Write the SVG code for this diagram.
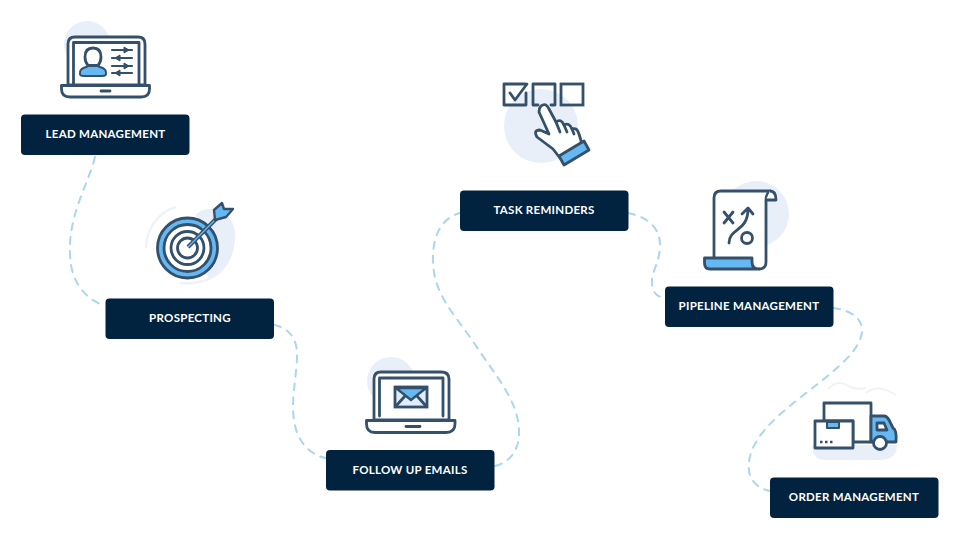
<svg xmlns="http://www.w3.org/2000/svg" width="960" height="539" viewBox="0 0 960 539">
<style>
.box{fill:#02233f}
.lbl{font-family:"Lato","Liberation Sans",sans-serif;font-weight:700;font-size:11.5px;fill:#fff;text-anchor:middle;letter-spacing:.28px}
.ln{fill:none;stroke:#34506a;stroke-width:2.8;stroke-linecap:round;stroke-linejoin:round}
.w{fill:#fff;stroke:#34506a;stroke-width:2.8;stroke-linejoin:round}
.bl{fill:#66b8f2;stroke:#34506a;stroke-width:2.8;stroke-linejoin:round}
.bg{fill:#e9eff8}
.dash{fill:none;stroke:#abd7ea;stroke-width:2;stroke-dasharray:7 7;stroke-linecap:round}
</style>
<rect width="960" height="539" fill="#fff"/>
<g id="connectors">
<path class="dash" d="M95 157C88 185 68 215 70 255C71 285 88 300 105 306"/>
<path class="dash" d="M274 325C290 328 298 340 297 358C296 380 291 400 294 420C297 442 310 455 326 458"/>
<path class="dash" d="M495 466C510 462 520 450 519 430C518 400 495 375 472 340C455 315 434 295 433 262C432 235 442 218 460 213"/>
<path class="dash" d="M628 213C648 217 660 228 660 245C660 262 651 272 652 284C653 294 658 297 665 298"/>
<path class="dash" d="M833 308C850 310 863 318 862 332C860 350 838 368 815 386C790 406 752 432 749 462C747 480 757 488 770 491"/>
</g>
<g id="lead-management">
<circle class="bg" cx="87" cy="44" r="23"/>
<path class="w" d="M68 85V44Q68 37 75 37H138Q145 37 145 44V85Z"/>
<path class="ln" d="M73.500 85V42.500H139V85"/>
<path class="w" d="M61.500 85.500H149.500V89Q149.500 97 141 97H70Q61.500 97 61.500 89Z"/>
<path class="ln" d="M101 91H110"/>
<path class="bl" d="M80 74Q79 69 86 67L90 65H96L100 67Q107 69 106 74Q106 76 102 76H84Q80 76 80 74Z" style="stroke-width:2"/>
<path class="w" d="M93 48Q85 48 85 57Q85 62 88 65.500H98Q101 62 101 57Q101 48 93 48Z"/>
<path class="ln" d="M112 50H132M112 58H132M112 66H132M112 73H132" style="stroke-width:2.200"/>
<path d="M124 47l5 3-5 3zM120 55l-5 3 5 3zM124 63l5 3-5 3zM120 70l-5 3 5 3z" fill="#34506a" stroke="#34506a"/>
<rect class="box" x="21" y="114.500" width="168.500" height="40.500" rx="4"/>
<text class="lbl" x="105.500" y="138">LEAD MANAGEMENT</text>
</g>
<g id="prospecting">
<path class="bg" d="M196 214C215 200 238 215 235 240C233 262 222 275 208 280Z"/>
<path d="M146 248C146 230 158 212 176 207M222 270C210 282 195 284 180 283" fill="none" stroke="#f0f3f6" stroke-width="2.500"/>
<circle class="bl" cx="187.500" cy="248" r="30"/>
<circle class="w" cx="187.500" cy="248" r="23.500"/>
<circle cx="187.500" cy="248" r="16.500" fill="none" stroke="#34506a" stroke-width="2.800"/>
<circle cx="187.500" cy="248" r="10" fill="none" stroke="#34506a" stroke-width="2.800"/>
<path d="M188 247L217 218" stroke="#34506a" stroke-width="4" fill="none"/>
<path d="M188 247L217 218" stroke="#66b8f2" stroke-width="1.500" fill="none"/>
<path class="bl" d="M215 220L214 210L222 203L224 209L233 209L226 217Z" style="stroke-width:2.400"/>
<rect class="box" x="105.500" y="298.500" width="168.500" height="40.500" rx="4"/>
<text class="lbl" x="190" y="322">PROSPECTING</text>
</g>
<g id="follow-up-emails">
<circle class="bg" cx="391" cy="381" r="24"/>
<path class="w" d="M374 420V379Q374 372 381 372H441Q449 372 449 379V420Z"/>
<path class="ln" d="M379.500 416V378H443V416"/>
<path class="w" d="M366.500 420.500H455V424Q455 432.500 446 432.500H375Q366.500 432.500 366.500 424Z"/>
<path class="ln" d="M406 426.500H420"/>
<rect x="395" y="387" width="32" height="20" fill="#dfeefb" stroke="#34506a" stroke-width="2.800"/>
<path d="M396 388H426L411 400Z" fill="#66b8f2" stroke="#34506a" stroke-width="2.400" stroke-linejoin="round"/>
<path class="ln" d="M396 406L405 396M426 406L417 396"/>
<rect class="box" x="326" y="450" width="168.500" height="40.500" rx="4"/>
<text class="lbl" x="410" y="473.500">FOLLOW UP EMAILS</text>
</g>
<g id="task-reminders">
<circle class="bg" cx="541" cy="126" r="37"/>
<path class="ln" d="M525 84H504V105H526V93"/>
<path class="ln" d="M510 93L515 100L527 84"/>
<path class="ln" d="M538 105H533V84H555V105H551"/>
<rect x="561" y="84" width="22" height="21" fill="none" stroke="#34506a" stroke-width="2.800"/>
<path class="w" d="M541 106Q546 102 549 109L556 122Q561 118 564 125Q569 122 572 129Q577 127 579 134L582 144L560 158L553 149L537 137Q533 130 540 130L549 134L539 112Q539 108 541 106Z"/>
<path class="ln" d="M556 122L560 132M564 125L567 132M572 129L574 134"/>
<path class="bl" d="M559 156L584 141L589 150L564 165Z"/>
<rect class="box" x="460" y="190.500" width="168.500" height="40.500" rx="4"/>
<text class="lbl" x="544" y="213.500">TASK REMINDERS</text>
</g>
<g id="pipeline-management">
<circle class="bg" cx="756" cy="214" r="33"/>
<path class="w" d="M714 257V198Q714 191 721 191H770Q766 194 766 200V262Q766 269 759 269"/>
<path class="w" d="M770 191Q776 191 776 200H766"/>
<path class="bl" d="M704.500 258H752V262Q752 269 759 269H710Q704.500 269 704.500 263Z"/>
<path class="ln" d="M724 212L733 223M733 212L724 223"/>
<path class="ln" d="M729 243C729 228 748 232 748 209M742 214L748 208L753 214"/>
<circle class="w" cx="747" cy="238" r="5.500"/>
<rect class="box" x="665" y="286.500" width="168.500" height="40.500" rx="4"/>
<text class="lbl" x="749" y="310">PIPELINE MANAGEMENT</text>
</g>
<g id="order-management">
<path class="bg" d="M812 445H897Q897 460 880 460H826Q812 460 812 445Z"/>
<path d="M828 389Q838 378 850 387Q858 390 866 388M866 393Q878 383 896 395" fill="none" stroke="#f0f3f6" stroke-width="2"/>
<path class="w" d="M871 403H824V421H853V442H871Z"/>
<path class="bl" d="M871 416H884Q887 416 889 420L893 428Q897 430 896 442H871Z"/>
<path class="w" d="M877 423H884L887 430H877Z"/>
<circle class="w" cx="880" cy="443" r="6.500"/>
<rect class="w" x="815" y="421" width="38" height="27"/>
<rect class="bl" x="827" y="422" width="12" height="6" style="stroke-width:2"/>
<path d="M820 442H822.500M825 442H827.500M830 442H832.500" stroke="#34506a" stroke-width="2.400"/>
<rect class="box" x="770" y="477.500" width="168.500" height="40.500" rx="4"/>
<text class="lbl" x="854" y="501">ORDER MANAGEMENT</text>
</g>
</svg>
